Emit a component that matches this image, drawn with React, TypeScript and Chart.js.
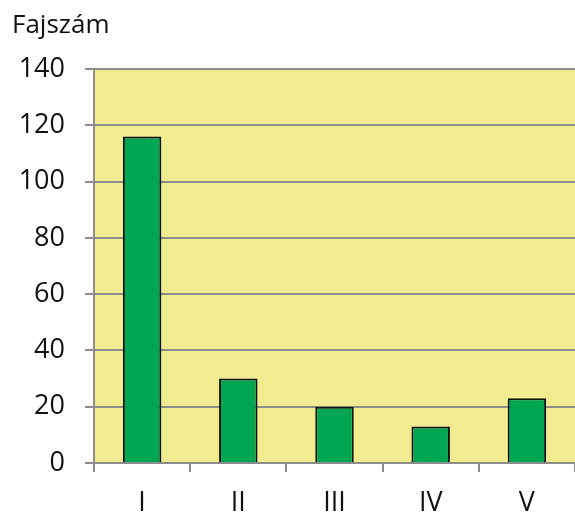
import React, { useEffect, useRef } from "react";
import { Chart, registerables } from "chart.js";

Chart.register(...registerables);

const categories = ["I", "II", "III", "IV", "V"];
const values = [116, 30, 20, 13, 23];
const yTicks = [0, 20, 40, 60, 80, 100, 120, 140];
const axisTitle = "Fajszám";

const FONT = "'Open Sans', sans-serif";

export default function App() {
  const ref = useRef<HTMLCanvasElement | null>(null);
  useEffect(() => {
    if (!ref.current) return;
    const bgPlugin = {
      id: "plotBg",
      beforeDraw(chart: any) {
        const { ctx, chartArea } = chart;
        ctx.save();
        ctx.fillStyle = "#F1EC8F";
        ctx.fillRect(chartArea.left, chartArea.top, chartArea.right - chartArea.left, chartArea.bottom - chartArea.top);
        ctx.restore();
      },
      afterDraw(chart: any) {
        const { ctx } = chart;
        ctx.save();
        ctx.fillStyle = "#111111";
        ctx.font = `26px ${FONT}`;
        ctx.textBaseline = "alphabetic";
        ctx.textAlign = "left";
        ctx.fillText(axisTitle, 12, 33);
        ctx.restore();
      },
    };
    const chart = new Chart(ref.current, {
      type: "bar",
      data: {
        labels: categories,
        datasets: [
          {
            data: values,
            backgroundColor: "#00A651",
            borderColor: "#111111",
            borderWidth: 2,
            categoryPercentage: 1,
            barPercentage: 0.4,
          },
        ],
      },
      options: {
        responsive: false,
        animation: false,
        layout: { padding: { top: 69, right: 0, left: 0, bottom: 0 } },
        plugins: { legend: { display: false }, tooltip: { enabled: false } },
        scales: {
          x: {
            grid: {
              display: true,
              drawOnChartArea: false,
              drawTicks: true,
              tickLength: 9,
              color: "#8c8c8c",
              lineWidth: 2,
              offset: true,
            },
            border: { color: "#8c8c8c", width: 2 },
            ticks: { color: "#111111", font: { family: FONT, size: 27 }, padding: 15 },
            afterFit(scale: any) {
              scale.height = 51;
            },
          },
          y: {
            min: 0,
            max: 140,
            afterBuildTicks(scale: any) {
              scale.ticks = yTicks.map((v) => ({ value: v }));
            },
            grid: { color: "#8c8c8c", lineWidth: 2, tickLength: 9 },
            border: { color: "#8c8c8c", width: 2 },
            ticks: { color: "#111111", font: { family: FONT, size: 27 }, padding: 20 },
            afterFit(scale: any) {
              scale.width = 94;
            },
          },
        },
      },
      plugins: [bgPlugin],
    });
    return () => chart.destroy();
  }, []);
  return (
    <div style={{ position: "fixed", left: 0, top: 0, width: 575, height: 514, background: "#fff" }}>
      <canvas ref={ref} width={575} height={514} />
    </div>
  );
}
